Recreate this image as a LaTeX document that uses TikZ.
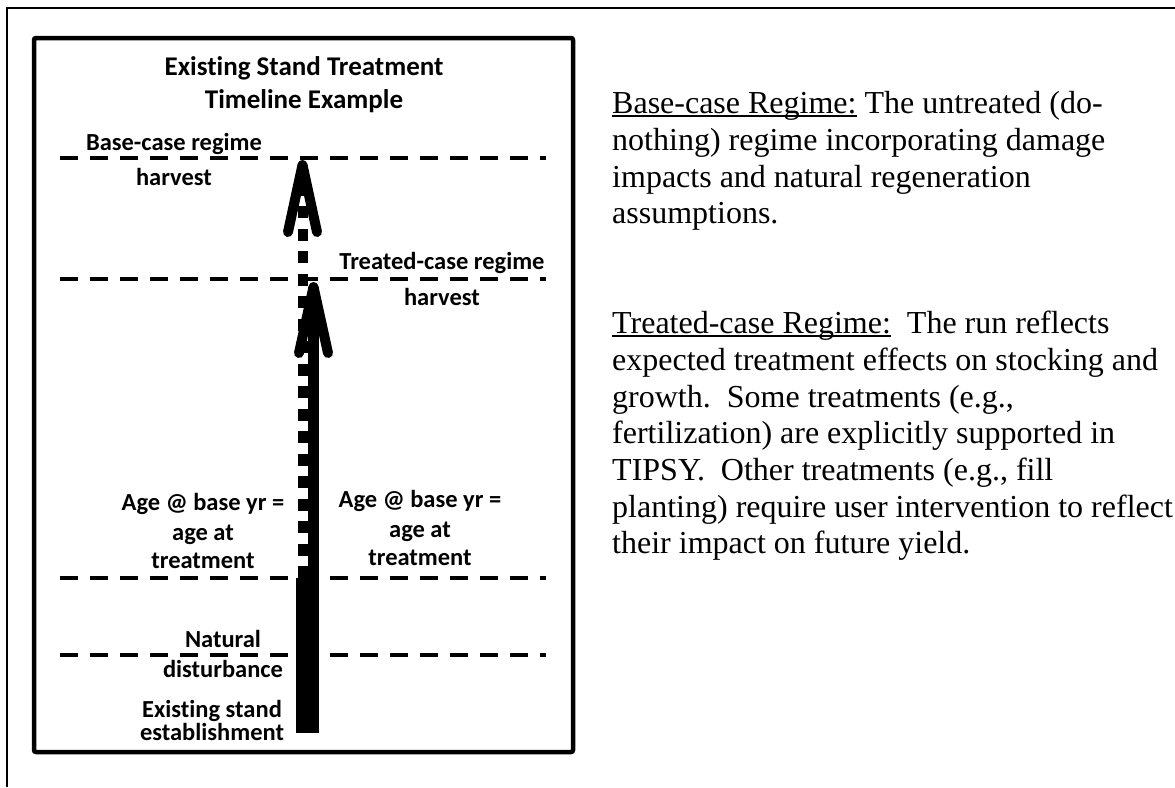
\documentclass[tikz,border=0pt]{standalone}
\usepackage{fontspec}
\setmainfont{Liberation Serif}
\newfontfamily\calibrifont[Ligatures=NoCommon]{Carlito}
\usetikzlibrary{positioning}
\newcommand\notefont{\fontsize{32}{36.8}\selectfont}
\newcommand\lblfont{\calibrifont\bfseries\fontsize{24.5}{29.9}\selectfont}
\newcommand\ttlfont{\calibrifont\bfseries\fontsize{27}{33}\selectfont}
\newcommand\ulword[1]{\setbox0\hbox{#1}\rlap{\rule[-3.5pt]{\wd0}{1.6pt}}\box0}
\tikzset{
  lbl/.style={font=\lblfont, anchor=base, inner sep=0pt},
  ttl/.style={font=\ttlfont, anchor=base, inner sep=0pt},
  note/.style={font=\notefont, anchor=base west, inner sep=0pt},
  eventline/.style={line width=3.5pt, dash pattern=on 18pt off 12pt},
  headstroke/.style={line width=10pt, line cap=round, line join=round},
}

\begin{document}
\begin{tikzpicture}[x=1pt, y=-1pt]
  \useasboundingbox (0,0) rectangle (1175,787);
  % table cell edges
  \draw[line width=1.8pt] (7,787) -- (7,8) -- (1175,8);
  % figure frame
  \draw[line width=4.5pt, rounded corners=2pt] (34,38) rectangle (573,752);
  % title
  \node[ttl] (ttl1) at (304,75) {Existing Stand Treatment};
  \node[ttl] (ttl2) at (304,108) {Timeline Example};
  % event lines
  \foreach \name/\y in {basecut/158, treatcut/279, treatment/578, disturb/655} {
    \coordinate (\name W) at (60,\y);
    \coordinate (\name E) at (546,\y);
    \draw[eventline] (\name W) -- (\name E);
  }
  % timeline shafts
  \coordinate (start) at (307.5,733);
  \coordinate (split) at (307.5,578);
  \draw[line width=23pt] (start) -- (split);
  \coordinate (baseFoot) at (302.5,578);
  \coordinate (baseTip) at (302.5,165);
  \draw[line width=10pt, dash pattern=on 12pt off 10.5pt] (baseFoot) -- (baseTip);
  \coordinate (treatFoot) at (313.5,578);
  \coordinate (treatTip) at (313.5,287);
  \draw[line width=11pt] (treatFoot) -- (treatTip);
  % arrow heads
  \draw[headstroke] (288,232) -- (baseTip) -- (317,232);
  \draw[headstroke] (299,353) -- (treatTip) -- (328,353);
  % labels
  \node[lbl] (bcTop) at (174,150) {Base-case regime};
  \node[lbl] (bcBot) at (174,185) {harvest};
  \node[lbl] (tcTop) at (442,269) {Treated-case regime};
  \node[lbl] (tcBot) at (442,305) {harvest};
  \foreach \x/\y/\s in {203/510/L, 420/507/R} {
    \node[lbl] (age\s1) at (\x,\y) {Age @ base yr =};
    \node[lbl] (age\s2) at (\x,\y+30) {age at};
    \node[lbl] (age\s3) at (\x,\y+58) {treatment};
  }
  \node[lbl] (nat1) at (223,647) {Natural};
  \node[lbl] (nat2) at (223,677) {disturbance};
  \node[lbl] (est1) at (212,717) {Existing stand};
  \node[lbl] (est2) at (212,740) {establishment};
  % notes
  \foreach \y/\txt [count=\i] in {
      113/{\ulword{Base-case Regime:}\ The untreated (do-},
      150/{nothing) regime incorporating damage},
      187/{impacts and natural regeneration},
      223/{assumptions.}} {
    \node[note] (bnote\i) at (612,\y) {\txt};
  }
  \foreach \y/\txt [count=\i] in {
      333/{\ulword{Treated-case Regime:}\ \ The run reflects},
      370/{expected treatment effects on stocking and},
      407/{growth.\ \ Some treatments (e.g.,},
      443/{fertilization) are explicitly supported in},
      480/{TIPSY.\ \ Other treatments (e.g., fill},
      517/{planting) require user intervention to reflect},
      553/{their impact on future yield.}} {
    \node[note] (tnote\i) at (612,\y) {\txt};
  }
\end{tikzpicture}
\end{document}
